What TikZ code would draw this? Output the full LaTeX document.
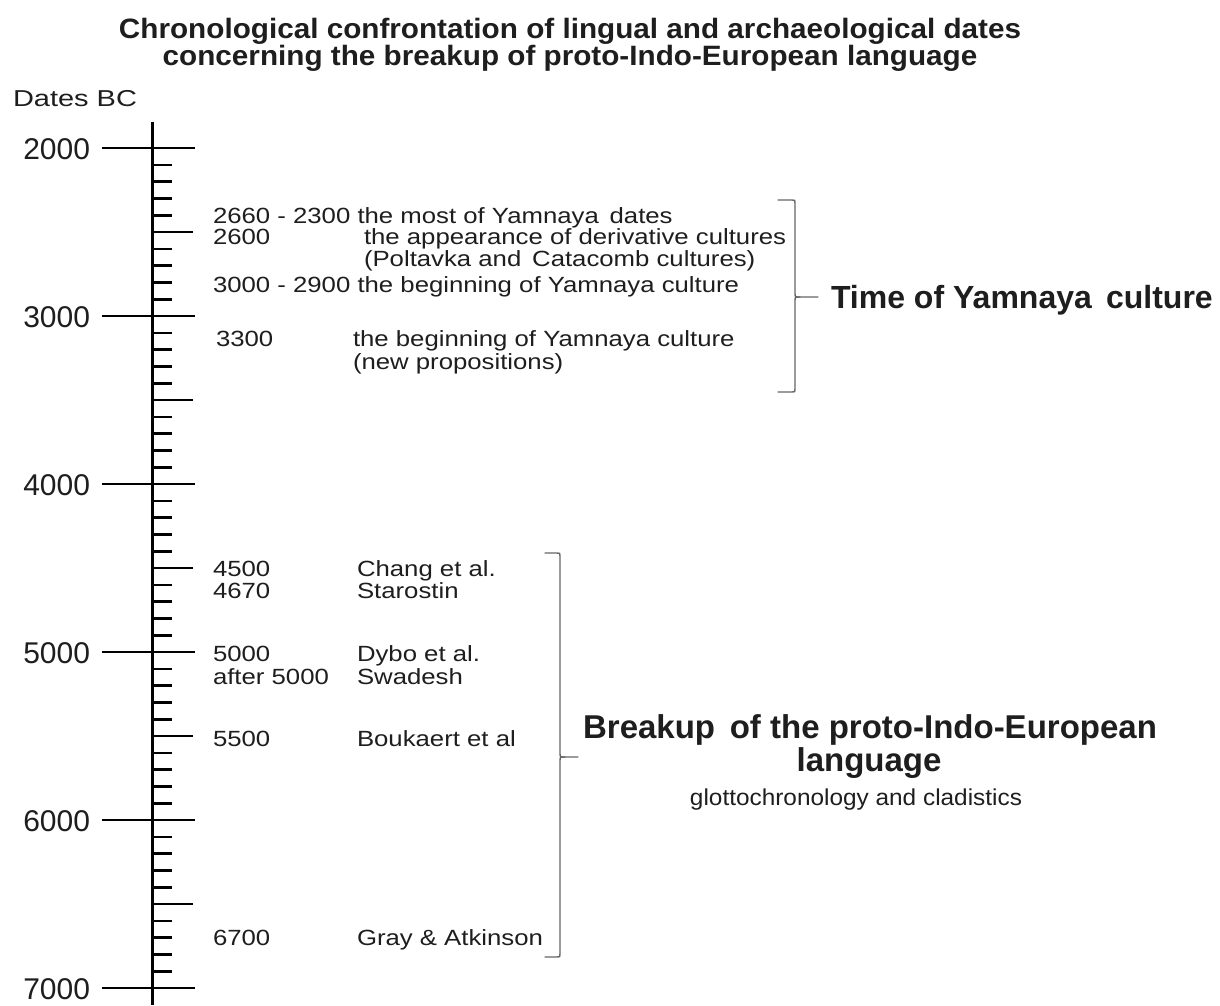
\documentclass[tikz,border=0pt]{standalone}
\usepackage{fontspec}
\setmainfont{Liberation Sans}
\newfontfamily\bodyf[FakeStretch=1.17]{Liberation Sans}
\newfontfamily\datesf[FakeStretch=1.26]{Liberation Sans}
\newfontfamily\titlef[FakeStretch=1.06]{Liberation Sans}
\begin{document}
\begin{tikzpicture}[x=1pt,y=-1pt,
  every node/.style={inner sep=0pt, outer sep=0pt, text=ink},
  yearlab/.style={anchor=base east, font=\fontsize{30}{30}\selectfont},
  body/.style={anchor=base west, font=\bodyf\fontsize{22}{22}\selectfont},
  ttl/.style={anchor=base, font=\titlef\bfseries\fontsize{28}{28}\selectfont},
  bigbold/.style={font=\bfseries\fontsize{32}{32}\selectfont},
  axisline/.style={line width=3pt, draw=black},
  tickline/.style={line width=2.6pt, draw=black},
  bracket/.style={line width=1.4pt, draw=brk, line cap=round, line join=round}]
\definecolor{ink}{HTML}{1E1E1E}
\definecolor{brk}{HTML}{666666}
\useasboundingbox[fill=white] (0,0) rectangle (1220,1005);
% title
\node[ttl] (t1) at (570,38) {Chronological confrontation of lingual and archaeological dates};
\node[ttl] (t2) at (570,65) {concerning the breakup of proto-Indo-European language};
\node[anchor=base west, font=\datesf\fontsize{23}{23}\selectfont] (dbc) at (13,106) {Dates BC};
% axis
\draw[axisline] (152,122) -- (152,1005);
\foreach \k in {0,...,50}{
  \pgfmathsetmacro\yy{148+\k*16.8}
  \pgfmathtruncatemacro\mt{mod(\k,10)}
  \pgfmathtruncatemacro\mf{mod(\k,5)}
  \ifnum\mt=0
    \draw[tickline] (102,\yy) -- (195,\yy);
  \else\ifnum\mf=0
    \draw[tickline] (152,\yy) -- (193,\yy);
  \else
    \draw[tickline] (152,\yy) -- (172,\yy);
  \fi\fi
}
\foreach \v [count=\i from 0] in {2000,3000,4000,5000,6000,7000}
  \node[yearlab] (y\v) at (90,{148+\i*168+11}) {\v};
% Yamnaya block
\node[body] (a1) at (213,223) {2660 - 2300 the most of Yamnaya\, dates};
\node[body] (a2d) at (213,244) {2600};
\node[body] (a2) at (364,244) {the appearance of derivative cultures};
\node[body] (a3) at (364,266) {(Poltavka and\, Catacomb cultures)};
\node[body] (a4) at (213,292) {3000 - 2900 the beginning of Yamnaya culture};
\node[body] (a5d) at (216,346) {3300};
\node[body] (a5) at (353,346) {the beginning of Yamnaya culture};
\node[body] (a6) at (353,369) {(new propositions)};
% bracket 1
\draw[bracket] (778,200) -- (792,200) .. controls (795,200) .. (795,203) -- (795,293)
  .. controls (795,297) .. (800,297) -- (818,297);
\draw[bracket] (778,392) -- (792,392) .. controls (795,392) .. (795,389) -- (795,301)
  .. controls (795,297) .. (800,297);
\node[bigbold, anchor=base west] (yam) at (831,308) {Time of Yamnaya\, culture};
% PIE block
\node[body] (b1d) at (213,576) {4500};
\node[body] (b1) at (357,576) {Chang et al.};
\node[body] (b2d) at (213,598) {4670};
\node[body] (b2) at (357,598) {Starostin};
\node[body] (b3d) at (213,661) {5000};
\node[body] (b3) at (357,661) {Dybo et al.};
\node[body] (b4d) at (213,684) {after 5000};
\node[body] (b4) at (357,684) {Swadesh};
\node[body] (b5d) at (213,746) {5500};
\node[body] (b5) at (357,746) {Boukaert et al};
\node[body] (b6d) at (213,945) {6700};
\node[body] (b6) at (357,945) {Gray \& Atkinson};
% bracket 2
\draw[bracket] (545,553) -- (557,553) .. controls (560,553) .. (560,556) -- (560,753)
  .. controls (560,757) .. (565,757) -- (578,757);
\draw[bracket] (545,957) -- (557,957) .. controls (560,957) .. (560,954) -- (560,761)
  .. controls (560,757) .. (565,757);
\node[bigbold, anchor=base, font=\bfseries\fontsize{33}{33}\selectfont] (pie1) at (870,738) {Breakup\, of the proto-Indo-European};
\node[bigbold, anchor=base, font=\bfseries\fontsize{33}{33}\selectfont] (pie2) at (869,771) {language};
\node[anchor=base, font=\titlef\fontsize{23}{23}\selectfont] (pie3) at (856,805) {glottochronology and cladistics};
\end{tikzpicture}
\end{document}
